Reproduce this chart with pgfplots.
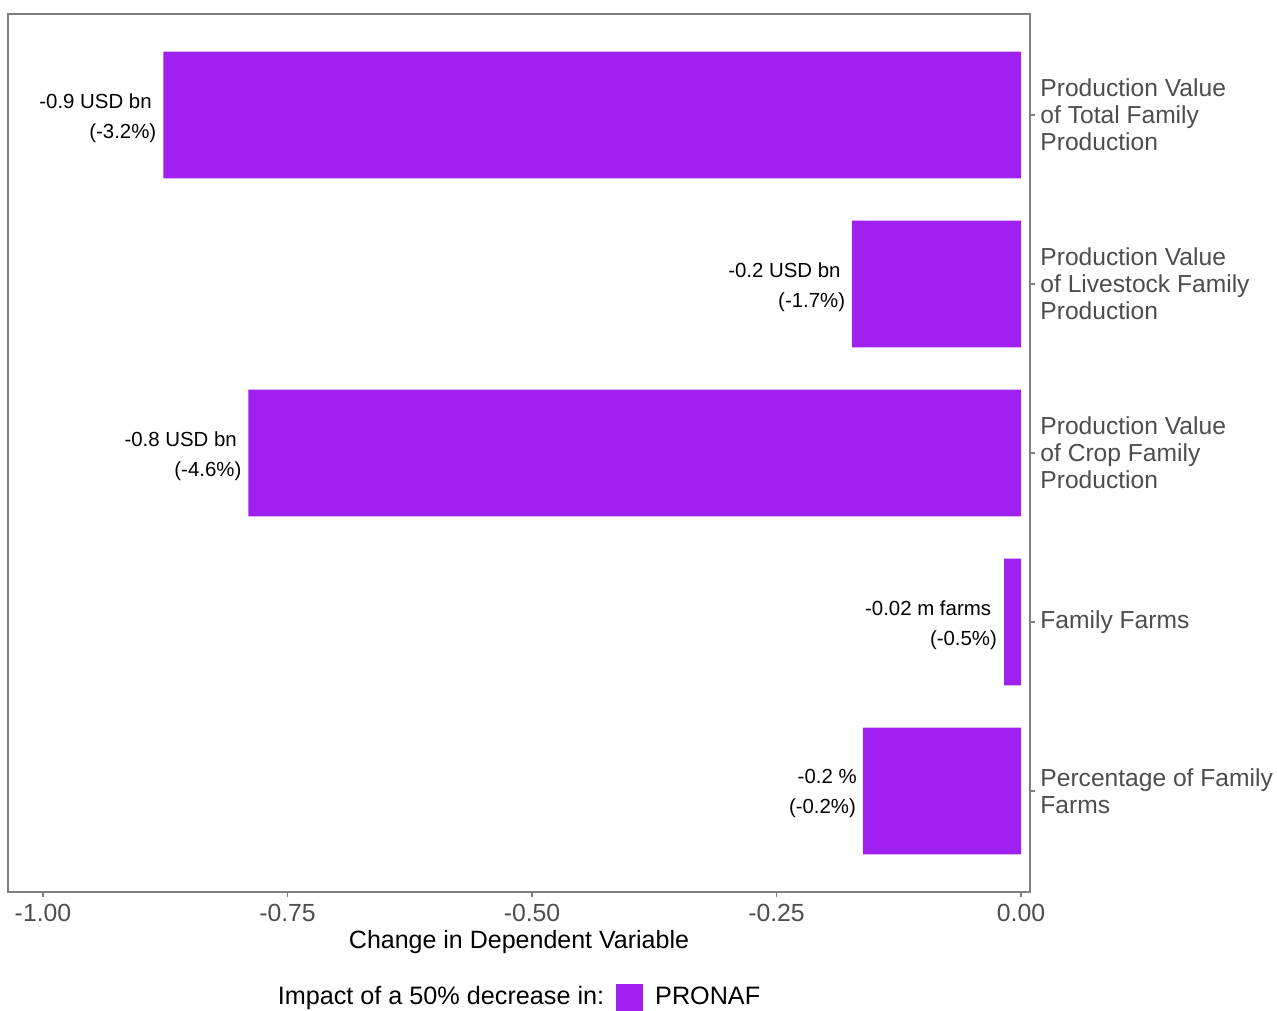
\documentclass[border=0pt]{standalone}
\usepackage{pgfplots}
\pgfplotsset{compat=1.18}
\usepackage{fontspec}
\setmainfont{Liberation Sans}
\definecolor{barpurple}{HTML}{A020F0}
\definecolor{ticktext}{HTML}{4D4D4D}
\definecolor{framegray}{HTML}{7F7F7F}
\begin{document}
\begin{tikzpicture}
\begin{axis}[
  at={(0pt,0pt)}, anchor=south west,
  scale only axis, width=511pt, height=439pt,
  xmin=-1.0358, xmax=0.0092, ymin=0.402, ymax=5.598,
  xbar, bar width=0.75,
  axis line style={framegray, line width=0.6pt},
  xtick={-1,-0.75,-0.5,-0.25,0},
  xticklabels={-1.00,-0.75,-0.50,-0.25,0.00},
  ytick={1,2,3,4,5},
  yticklabels={{Percentage of Family\\Farms},{Family Farms},{Production Value\\of Crop Family\\Production},{Production Value\\of Livestock Family\\Production},{Production Value\\of Total Family\\Production}},
  xtick pos=lower, ytick pos=right, yticklabel pos=right,
  tick align=outside, major tick length=2.5pt,
  tick style={framegray, line width=0.6pt},
  xticklabel style={font=\fontsize{12.4}{13}\selectfont, text=ticktext, inner sep=0pt, anchor=north, yshift=-3.2pt},
  yticklabel style={font=\fontsize{12.3}{13.5}\selectfont, text=ticktext, align=left, inner sep=0pt, anchor=west, xshift=2.5pt},
  xlabel={Change in Dependent Variable},
  xlabel style={at={(axis description cs:0.5,0)}, anchor=north, yshift=-19pt, inner sep=0pt, font=\fontsize{12.5}{14}\selectfont},
  legend style={at={(0.5,-0.1196)}, anchor=center, draw=none, fill=none, legend columns=-1,
    font=\fontsize{12.6}{14}\selectfont, inner sep=0pt, column sep=0pt, nodes={inner sep=0pt}},
  clip=false,
]
\addlegendimage{empty legend}
\addlegendentry{Impact of a 50\% decrease in:}
\addplot[fill=barpurple, draw=none,
  legend image code/.code={\path (0pt,0pt); \fill[barpurple] (6pt,-6.75pt) rectangle (19.5pt,6.75pt); \path (25.5pt,0pt);}]
  coordinates {(-0.1616,1) (-0.0174,2) (-0.790,3) (-0.1726,4) (-0.877,5)};
\addlegendentry{PRONAF}
\tikzset{lbl/.style={anchor=east, align=right, inner sep=0pt, yshift=-1.5pt, font=\fontsize{10.2}{15}\selectfont}}
\node[lbl] at (axis cs:-0.877,5) {\makebox[1.1\width][l]{-0.9 USD bn}\\\makebox[1.1\width][l]{(-3.2\%)}};
\node[lbl] at (axis cs:-0.1726,4) {\makebox[1.1\width][l]{-0.2 USD bn}\\\makebox[1.1\width][l]{(-1.7\%)}};
\node[lbl] at (axis cs:-0.790,3) {\makebox[1.1\width][l]{-0.8 USD bn}\\\makebox[1.1\width][l]{(-4.6\%)}};
\node[lbl] at (axis cs:-0.0174,2) {\makebox[1.1\width][l]{-0.02 m farms}\\\makebox[1.1\width][l]{(-0.5\%)}};
\node[lbl] at (axis cs:-0.1616,1) {\makebox[1.1\width][l]{-0.2 \%}\\\makebox[1.1\width][l]{(-0.2\%)}};
\end{axis}
\pgfresetboundingbox
\path (-4pt,-59pt) rectangle (634.5pt,446pt);
\end{tikzpicture}
\end{document}
